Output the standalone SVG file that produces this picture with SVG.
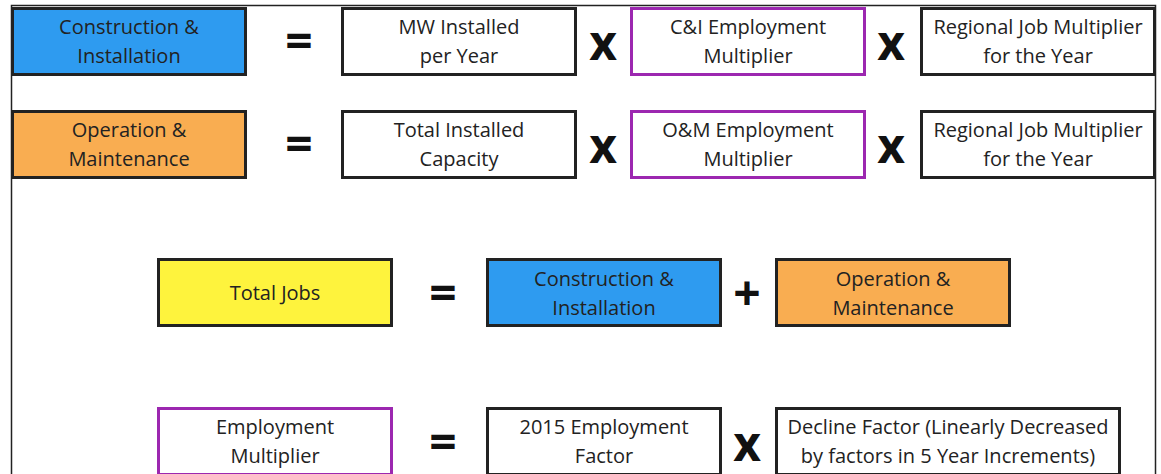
<svg xmlns="http://www.w3.org/2000/svg" width="1161" height="474" viewBox="0 0 1161 474">
<style>
.box{stroke:#222;stroke-width:3;fill:#fff}
.pur{stroke:#9c27b0;stroke-width:3;fill:#fff}
.blue{fill:#2e9bf0}
.orange{fill:#f9ad51}
.yellow{fill:#fef33d}
text{font-family:"Open Sans","Noto Sans",sans-serif;font-size:20px;fill:#222;text-anchor:middle}
.op{font-size:48px;font-weight:700;fill:#111}
</style>
<rect x="11.5" y="5.5" width="1144" height="480" fill="#fff" stroke="#222" stroke-width="1.5"/>
<g id="ci1"><rect class="box blue" x="12.5" y="8.5" width="233" height="66"/><text x="129" y="34">Construction &amp;</text><text x="129" y="63">Installation</text></g>
<g id="mw"><rect class="box" x="342.5" y="8.5" width="233" height="66"/><text x="459" y="34">MW Installed</text><text x="459" y="63">per Year</text></g>
<g id="cim"><rect class="pur" x="631.5" y="8.5" width="233" height="66"/><text x="748" y="34">C&amp;I Employment</text><text x="748" y="63">Multiplier</text></g>
<g id="rj1"><rect class="box" x="921.5" y="8.5" width="233" height="66"/><text x="1038" y="34">Regional Job Multiplier</text><text x="1038" y="63">for the Year</text></g>
<g id="om1"><rect class="box orange" x="12.5" y="111.5" width="233" height="66"/><text x="129" y="137">Operation &amp;</text><text x="129" y="166">Maintenance</text></g>
<g id="tic"><rect class="box" x="342.5" y="111.5" width="233" height="66"/><text x="459" y="137">Total Installed</text><text x="459" y="166">Capacity</text></g>
<g id="omm"><rect class="pur" x="631.5" y="111.5" width="233" height="66"/><text x="748" y="137">O&amp;M Employment</text><text x="748" y="166">Multiplier</text></g>
<g id="rj2"><rect class="box" x="921.5" y="111.5" width="233" height="66"/><text x="1038" y="137">Regional Job Multiplier</text><text x="1038" y="166">for the Year</text></g>
<g id="tj"><rect class="box yellow" x="158.5" y="259.5" width="233" height="66"/><text x="275" y="300">Total Jobs</text></g>
<g id="ci2"><rect class="box blue" x="487.5" y="259.5" width="233" height="66"/><text x="604" y="286">Construction &amp;</text><text x="604" y="315">Installation</text></g>
<g id="om2"><rect class="box orange" x="776.5" y="259.5" width="233" height="66"/><text x="893" y="286">Operation &amp;</text><text x="893" y="315">Maintenance</text></g>
<g id="em"><rect class="pur" x="158.5" y="408.5" width="233" height="66"/><text x="275" y="434">Employment</text><text x="275" y="463">Multiplier</text></g>
<g id="ef"><rect class="box" x="487.5" y="408.5" width="233" height="66"/><text x="604" y="434">2015 Employment</text><text x="604" y="463">Factor</text></g>
<g id="df"><rect class="box" x="776.5" y="408.5" width="343" height="66"/><text x="948" y="434">Decline Factor (Linearly Decreased</text><text x="948" y="463">by factors in 5 Year Increments)</text></g>
<g id="ops">
<text class="op" x="299" y="58">=</text>
<text class="op" x="603" y="60">x</text>
<text class="op" x="891" y="60">x</text>
<text class="op" x="299" y="161">=</text>
<text class="op" x="603" y="163">x</text>
<text class="op" x="891" y="163">x</text>
<text class="op" x="443" y="310">=</text>
<text class="op" x="747" y="310">+</text>
<text class="op" x="443" y="459">=</text>
<text class="op" x="747" y="461">x</text>
</g>
</svg>
